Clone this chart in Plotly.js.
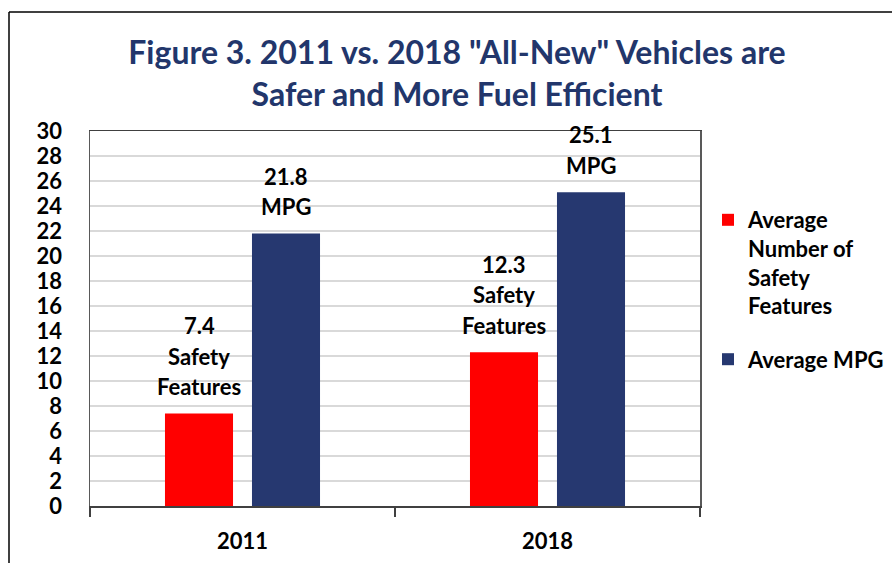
<!DOCTYPE html>
<html>
<head>
<meta charset="utf-8">
<script src="https://cdn.plot.ly/plotly-3.0.1.min.js"></script>
<style>html,body{margin:0;padding:0;background:#fff;}#chart{width:892px;height:563px;}</style>
</head>
<body>
<div id="chart"></div>
<script>
// ---- data ----
const categories = ['2011', '2018'];
const safetyFeatures = [7.4, 12.3];
const avgMpg = [21.8, 25.1];
const seriesNames = ['Average<br>Number of<br>Safety<br>Features', 'Average MPG'];
const safetyLabelWords = ['Safety', 'Features'];
const mpgLabelWords = ['MPG'];
const titleLines = ['Figure 3. 2011 vs. 2018 "All-New" Vehicles are', 'Safer and More Fuel Efficient'];

const FONT = 'Lato, "Open Sans", sans-serif';
const RED = '#ff0000';
const NAVY = '#263870';
const TXT = 22;

const traces = [
  {type: 'bar', name: seriesNames[0], x: categories, y: safetyFeatures,
   marker: {color: RED}, legendgroup: 'a', hoverinfo: 'none'},
  {type: 'bar', name: seriesNames[1], x: categories, y: avgMpg,
   marker: {color: NAVY}, legendgroup: 'b', hoverinfo: 'none'}
];

const annotations = [];
function addLabel(catIndex, val, words, xshift) {
  const lines = [val.toFixed(1)].concat(words);
  lines.forEach((t, k) => {
    const fromBottom = lines.length - 1 - k;
    annotations.push({
      xref: 'x', yref: 'y', x: catIndex, y: val, xshift: xshift,
      yshift: 27 + 30.5 * fromBottom, yanchor: 'middle', xanchor: 'center',
      text: t, showarrow: false,
      font: {family: FONT, size: TXT, color: '#000', weight: 'bold'}
    });
  });
}
categories.forEach((c, i) => {
  addLabel(i, safetyFeatures[i], safetyLabelWords, -43.5);
  addLabel(i, avgMpg[i], mpgLabelWords, 43.5);
});

const W = 892, H = 563;
const L = 90, R = 700, T = 131, B = 506;
const pw = R - L, ph = B - T;
const px = v => (v - L) / pw;
const py = v => (B - v) / ph;

const shapes = [
  {type: 'line', xref: 'paper', yref: 'paper', x0: px(9), x1: px(9), y0: py(600), y1: py(12),
   line: {color: '#000', width: 1.5}},
  {type: 'line', xref: 'paper', yref: 'paper', x0: px(9), x1: px(900), y0: py(12), y1: py(12),
   line: {color: '#000', width: 1.5}}
];

const layout = {
  width: W, height: H,
  margin: {l: L, r: W - R, t: T, b: H - B, pad: 0},
  paper_bgcolor: '#fff', plot_bgcolor: '#fff',
  title: {
    text: titleLines.join('<br>'),
    x: 457 / W, xref: 'container', xanchor: 'center',
    y: 1 - 64 / H, yref: 'container', yanchor: 'top',
    font: {family: FONT, size: 32, color: '#22366b', weight: 'bold'}
  },
  barmode: 'group', bargap: 0.4295, bargroupgap: 0.218,
  xaxis: {
    type: 'category', tickson: 'boundaries', ticks: 'outside', ticklen: 9,
    tickcolor: '#404040', tickwidth: 1.5,
    showline: true, linecolor: '#404040', linewidth: 1.5, mirror: true,
    showgrid: false, ticklabelstandoff: 15,
    tickfont: {family: FONT, size: TXT, color: '#000', weight: 'bold'}
  },
  yaxis: {
    range: [0, 30], dtick: 2, tick0: 0, ticks: '',
    showline: true, linecolor: '#595959', linewidth: 1.5, mirror: true,
    showgrid: true, gridcolor: '#d9d9d9', gridwidth: 1.5, zeroline: false,
    ticklabelstandoff: 22,
    tickfont: {family: FONT, size: TXT, color: '#000', weight: 'bold'}
  },
  showlegend: true,
  legend: {
    xref: 'container', yref: 'container',
    x: 708 / W, xanchor: 'left', y: 1 - 199 / H, yanchor: 'top',
    valign: 'top', tracegroupgap: 22, bgcolor: 'rgba(0,0,0,0)',
    font: {family: FONT, size: TXT, color: '#000', weight: 'bold'}
  },
  annotations: annotations,
  shapes: shapes
};

Plotly.newPlot('chart', traces, layout, {displayModeBar: false, staticPlot: true});
</script>
</body>
</html>
